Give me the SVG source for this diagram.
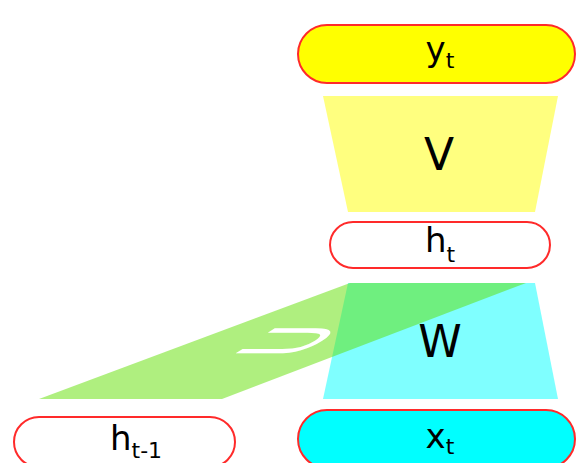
<svg xmlns="http://www.w3.org/2000/svg" width="576" height="463" viewBox="0 0 576 463">
<style>
.box{stroke:#ff2a2a;stroke-width:2}
.lbl{font-family:"DejaVu Sans",sans-serif;font-size:34px;fill:#000;text-anchor:middle}
.sub{font-size:22px}
.mat{font-family:"DejaVu Sans",sans-serif;font-size:44px;fill:#000;text-anchor:middle}
</style>
<rect width="576" height="463" fill="#fff"/>
<g id="connectors">
  <g id="V">
    <polygon points="323,96 558,96 535,212 348,212" fill="#ffff00" fill-opacity="0.5"/>
    <text class="mat" x="439" y="170">V</text>
  </g>
  <g id="W">
    <polygon points="348,283 535,283 558,399 323,399" fill="#00ffff" fill-opacity="0.5"/>
    <text class="mat" x="440" y="357">W</text>
  </g>
  <g id="U">
    <polygon points="39,399 222,399 526,283 350,283" fill="#5fe000" fill-opacity="0.5"/>
    <text font-family="DejaVu Sans, sans-serif" font-size="40" fill="#fff" transform="matrix(1.75,-1.125,2.25,0,295.2,357.2)">U</text>
  </g>
</g>
<g id="y_t">
  <rect class="box" x="298" y="25" width="277" height="58" rx="29" fill="#ffff00"/>
  <text class="lbl" x="440" y="61">y<tspan class="sub" dy="7">t</tspan></text>
</g>
<g id="h_t">
  <rect class="box" x="330" y="222" width="220" height="46" rx="23" fill="#fff"/>
  <text class="lbl" x="440" y="252">h<tspan class="sub" dy="10">t</tspan></text>
</g>
<g id="x_t">
  <rect class="box" x="298" y="410" width="277" height="58" rx="29" fill="#00ffff"/>
  <text class="lbl" x="440" y="448">x<tspan class="sub" dy="6">t</tspan></text>
</g>
<g id="h_t-1">
  <rect class="box" x="14" y="417" width="221" height="50" rx="25" fill="#fff"/>
  <text class="lbl" x="136" y="450">h<tspan class="sub" dy="8">t-1</tspan></text>
</g>
</svg>
